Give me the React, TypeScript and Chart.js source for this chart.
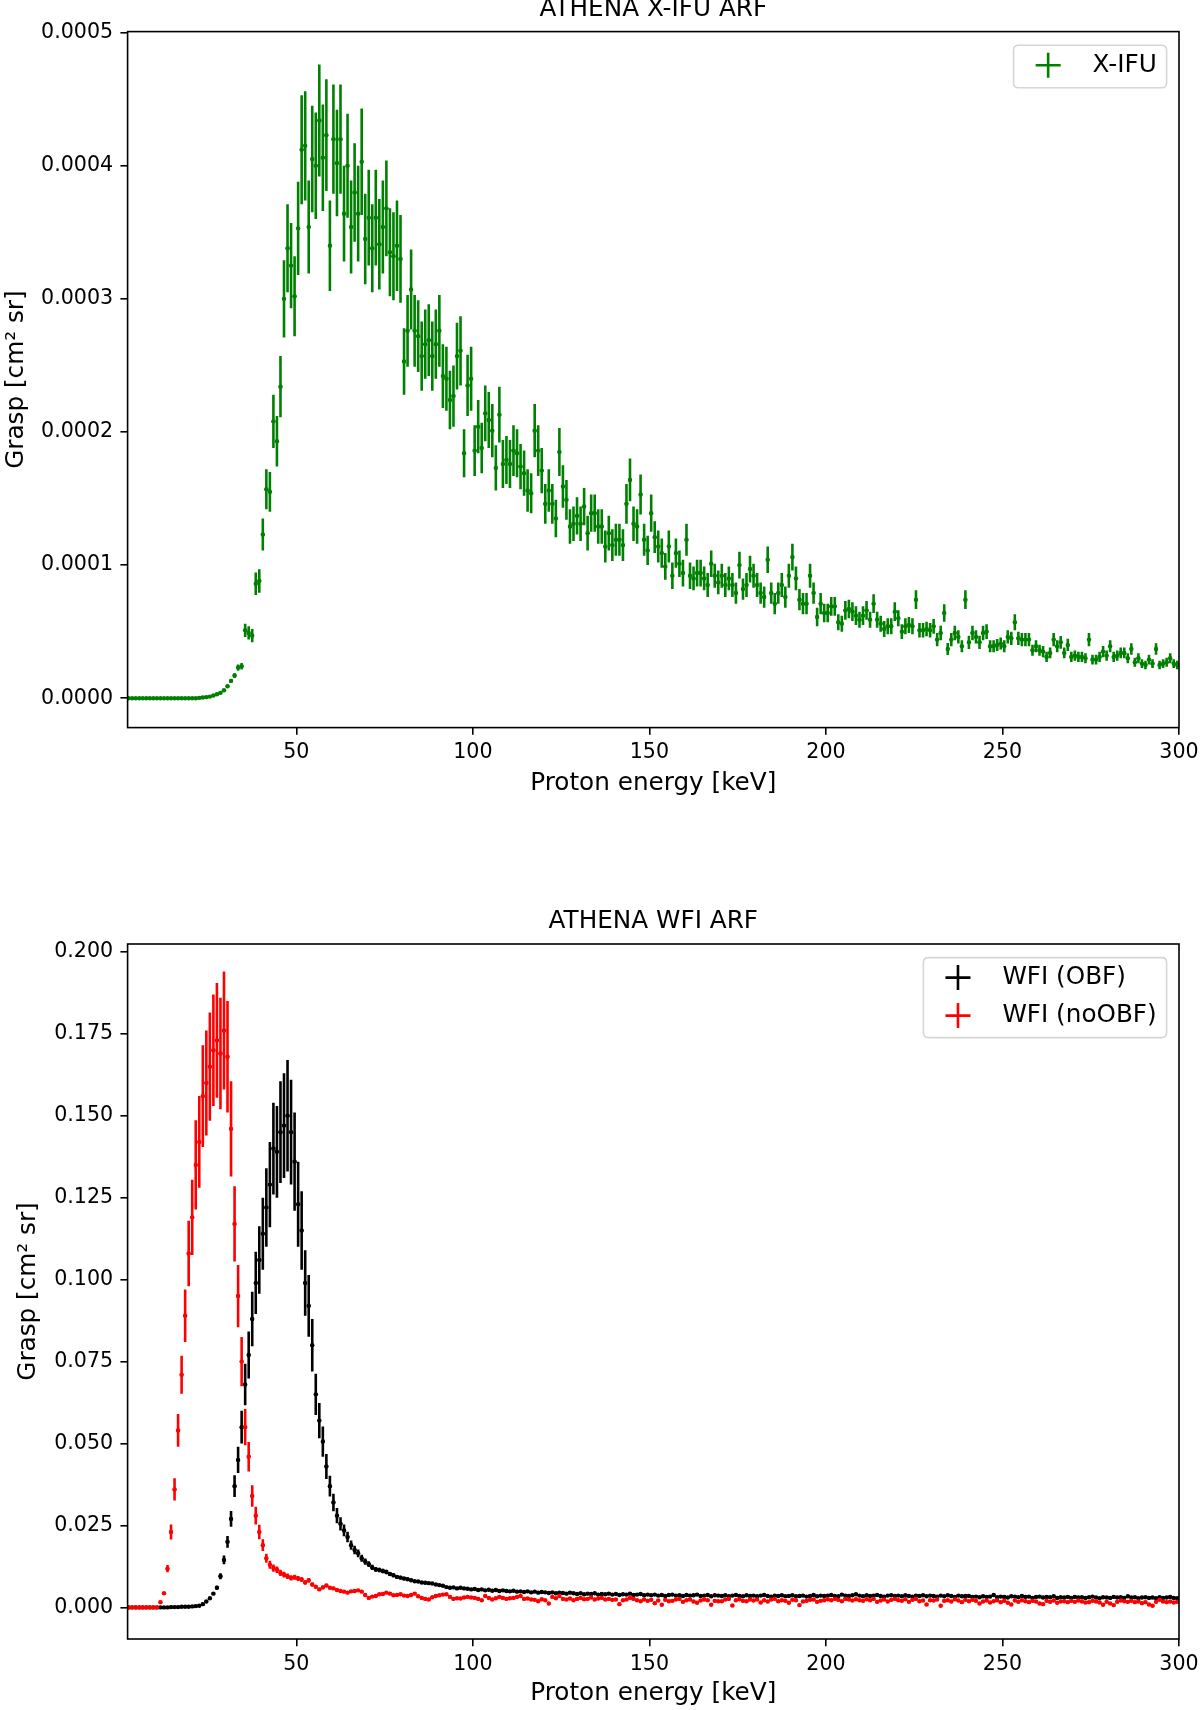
import React, { useEffect, useRef } from "react";
import { Chart, registerables } from "chart.js";

Chart.register(...registerables);

const FONT = "'DejaVu Sans', 'Liberation Sans', sans-serif";

// ---------------- DATA ----------------
// Proton energy bin centres [keV]
const ENERGY_KEV = [
  2.5, 3.5, 4.5, 5.5, 6.5, 7.5, 8.5, 9.5,
  10.5, 11.5, 12.5, 13.5, 14.5, 15.5, 16.5, 17.5, 18.5, 19.5,
  20.5, 21.5, 22.5, 23.5, 24.5, 25.5, 26.5, 27.5, 28.5, 29.5,
  30.5, 31.5, 32.5, 33.5, 34.5, 35.5, 36.5, 37.5, 38.5, 39.5,
  40.5, 41.5, 42.5, 43.5, 44.5, 45.5, 46.5, 47.5, 48.5, 49.5,
  50.5, 51.5, 52.5, 53.5, 54.5, 55.5, 56.5, 57.5, 58.5, 59.5,
  60.5, 61.5, 62.5, 63.5, 64.5, 65.5, 66.5, 67.5, 68.5, 69.5,
  70.5, 71.5, 72.5, 73.5, 74.5, 75.5, 76.5, 77.5, 78.5, 79.5,
  80.5, 81.5, 82.5, 83.5, 84.5, 85.5, 86.5, 87.5, 88.5, 89.5,
  90.5, 91.5, 92.5, 93.5, 94.5, 95.5, 96.5, 97.5, 98.5, 99.5,
  100.5, 101.5, 102.5, 103.5, 104.5, 105.5, 106.5, 107.5, 108.5, 109.5,
  110.5, 111.5, 112.5, 113.5, 114.5, 115.5, 116.5, 117.5, 118.5, 119.5,
  120.5, 121.5, 122.5, 123.5, 124.5, 125.5, 126.5, 127.5, 128.5, 129.5,
  130.5, 131.5, 132.5, 133.5, 134.5, 135.5, 136.5, 137.5, 138.5, 139.5,
  140.5, 141.5, 142.5, 143.5, 144.5, 145.5, 146.5, 147.5, 148.5, 149.5,
  150.5, 151.5, 152.5, 153.5, 154.5, 155.5, 156.5, 157.5, 158.5, 159.5,
  160.5, 161.5, 162.5, 163.5, 164.5, 165.5, 166.5, 167.5, 168.5, 169.5,
  170.5, 171.5, 172.5, 173.5, 174.5, 175.5, 176.5, 177.5, 178.5, 179.5,
  180.5, 181.5, 182.5, 183.5, 184.5, 185.5, 186.5, 187.5, 188.5, 189.5,
  190.5, 191.5, 192.5, 193.5, 194.5, 195.5, 196.5, 197.5, 198.5, 199.5,
  200.5, 201.5, 202.5, 203.5, 204.5, 205.5, 206.5, 207.5, 208.5, 209.5,
  210.5, 211.5, 212.5, 213.5, 214.5, 215.5, 216.5, 217.5, 218.5, 219.5,
  220.5, 221.5, 222.5, 223.5, 224.5, 225.5, 226.5, 227.5, 228.5, 229.5,
  230.5, 231.5, 232.5, 233.5, 234.5, 235.5, 236.5, 237.5, 238.5, 239.5,
  240.5, 241.5, 242.5, 243.5, 244.5, 245.5, 246.5, 247.5, 248.5, 249.5,
  250.5, 251.5, 252.5, 253.5, 254.5, 255.5, 256.5, 257.5, 258.5, 259.5,
  260.5, 261.5, 262.5, 263.5, 264.5, 265.5, 266.5, 267.5, 268.5, 269.5,
  270.5, 271.5, 272.5, 273.5, 274.5, 275.5, 276.5, 277.5, 278.5, 279.5,
  280.5, 281.5, 282.5, 283.5, 284.5, 285.5, 286.5, 287.5, 288.5, 289.5,
  290.5, 291.5, 292.5, 293.5, 294.5, 295.5, 296.5, 297.5, 298.5, 299.5,
];
const ENERGY_HALF_BIN_KEV = 0.5;

// X-IFU grasp, in units of 1e-6 cm^2 sr
const XIFU_GRASP_E6 = [
  0, 0, 0, 0, 0, 0, 0, 0,
  0, 0, 0, 0, 0, 0, 0, 0, 0, 0,
  0, 0, 0.2, 0.5, 0.8, 1.2, 2, 3, 4, 6,
  9, 13, 17, 23, 24, 51, 49, 47, 86, 88,
  123, 157, 155, 208, 193, 234, 300, 338, 325, 302,
  353, 412, 415, 354, 405, 400, 434, 406, 423, 340,
  420, 402, 420, 364, 400, 354, 380, 364, 403, 345,
  361, 338, 361, 341, 354, 368, 335, 332, 340, 330,
  253, 276, 307, 276, 272, 257, 266, 269, 257, 266,
  276, 242, 240, 224, 227, 257, 261, 184, 235, 240,
  186, 204, 188, 214, 209, 201, 173, 213, 176, 179,
  176, 186, 184, 174, 169, 156, 154, 201, 186, 171,
  146, 156, 146, 135, 185, 159, 149, 129, 131, 137,
  131, 144, 124, 139, 139, 129, 129, 114, 124, 115,
  119, 119, 115, 146, 164, 131, 129, 153, 119, 111,
  139, 121, 114, 109, 99, 114, 92, 109, 101, 94,
  119, 92, 90, 94, 94, 90, 85, 101, 92, 87,
  92, 85, 90, 85, 79, 100, 82, 85, 97, 92,
  85, 79, 76, 104, 79, 71, 79, 85, 76, 92,
  106, 90, 74, 71, 71, 92, 79, 61, 71, 64,
  64, 69, 69, 57, 56, 66, 67, 65, 62, 59,
  62, 66, 59, 71, 59, 56, 52, 54, 54, 65,
  60, 50, 54, 55, 54, 74, 51, 51, 52, 51,
  54, 44, 49, 64, 37, 44, 49, 46, 39, 74,
  42, 49, 46, 42, 49, 50, 39, 39, 40, 41,
  39, 46, 45, 57, 45, 44, 44, 44, 36, 39,
  36, 35, 31, 34, 44, 39, 42, 34, 40, 31,
  32, 31, 31, 30, 44, 29, 29, 31, 35, 32,
  39, 31, 32, 34, 34, 30, 37, 27, 30, 26,
  25, 29, 26, 37, 25, 26, 27, 30, 26, 25,
];
const XIFU_ERR_E6 = [
  0, 0, 0, 0, 0, 0, 0, 0,
  0, 0, 0, 0, 0, 0, 0, 0, 0, 0,
  0, 0, 0, 0.1, 0.1, 0.2, 0.3, 0.4, 0.5, 0.7,
  1, 1.4, 1.8, 2.4, 2.5, 5, 5, 5, 8.5, 8.8,
  12, 15, 15, 20, 19, 23, 29, 33, 32, 30,
  35, 41, 41, 35, 40, 40, 42, 40, 42, 34,
  41, 40, 41, 36, 39, 35, 37, 36, 40, 34,
  36, 33, 36, 34, 35, 36, 33, 33, 34, 33,
  25, 27, 30, 27, 27, 26, 26, 27, 26, 26,
  27, 24, 24, 22, 23, 25, 26, 18, 23, 24,
  19, 20, 19, 21, 21, 20, 17, 21, 18, 18,
  18, 19, 18, 17, 17, 16, 15, 20, 19, 17,
  15, 16, 15, 14, 18, 16, 15, 13, 13, 14,
  13, 14, 13, 14, 14, 13, 13, 12, 13, 12,
  12, 12, 12, 15, 16, 13, 13, 15, 12, 11,
  14, 12, 12, 11, 10, 12, 10, 11, 10, 10,
  12, 10, 9, 10, 10, 9, 9, 10, 9, 9,
  9, 9, 9, 9, 8, 10, 8, 9, 10, 9,
  9, 8, 8, 10, 8, 8, 8, 9, 8, 9,
  10, 9, 8, 8, 8, 9, 8, 7, 8, 7,
  7, 7, 7, 6, 6, 7, 7, 7, 7, 6,
  7, 7, 6, 7, 6, 6, 6, 6, 6, 7,
  6, 5.5, 6, 6, 6, 7, 5.5, 5.5, 5.5, 5.5,
  5.5, 5, 5.5, 6.5, 4.5, 5, 5.5, 5, 4.5, 7,
  5, 5.5, 5, 5, 5.5, 5.5, 4.5, 4.5, 4.5, 4.5,
  4.5, 5, 5, 6, 5, 5, 5, 5, 4.2, 4.5,
  4.2, 4.2, 3.8, 4, 5, 4.5, 4.8, 4, 4.6, 3.8,
  3.9, 3.8, 3.8, 3.7, 5, 3.6, 3.6, 3.8, 4.2, 3.9,
  4.5, 3.8, 3.9, 4, 4, 3.7, 4.3, 3.4, 3.7, 3.3,
  3.2, 3.6, 3.3, 4.3, 3.2, 3.3, 3.4, 3.7, 3.3, 3.2,
];

// WFI with optical blocking filter, in units of 1e-3 cm^2 sr
const WFI_OBF_E3 = [
  0, 0, 0, 0, 0, 0, 0, 0,
  0, 0, 0, 0, 0.1, 0.1, 0.1, 0.2, 0.2, 0.2,
  0.3, 0.4, 0.5, 1.0, 1.8, 2.8, 4.2, 6.0, 9.5, 14.5,
  20, 27, 37, 45, 55, 68, 77, 88, 99, 106,
  114, 122, 129, 140, 139, 145, 147, 150, 145, 136,
  123, 115, 99, 92, 80, 65, 57, 50.6, 43, 37,
  32, 28, 25.5, 23.5, 21.5, 19, 17.5, 16.5, 15, 14,
  13.2, 12.2, 11.6, 11.4, 11.1, 10.8, 10.2, 9.8, 9.3, 9.1,
  8.8, 8.6, 8.3, 8.0, 7.9, 7.6, 7.5, 7.4, 7.3, 7.0,
  6.8, 6.6, 6.2, 6.0, 6.1, 5.8, 6.0, 5.8, 5.7, 5.5,
  5.6, 5.3, 5.5, 5.2, 5.4, 5.1, 5.3, 5.0, 5.2, 5.0,
  4.9, 5.1, 4.8, 4.9, 4.7, 4.9, 4.6, 4.8, 4.5, 4.7,
  4.6, 4.4, 4.6, 4.3, 4.5, 4.4, 4.2, 4.5, 4.3, 4.1,
  4.3, 4.0, 4.2, 4.1, 4.3, 3.9, 4.1, 4.0, 4.2, 3.9,
  4.1, 3.8, 4.0, 3.9, 4.2, 3.8, 3.9, 4.1, 3.7, 3.9,
  3.7, 3.9, 3.6, 3.8, 3.5, 3.8, 3.9, 3.6, 3.7, 3.5,
  3.8, 3.6, 3.7, 3.9, 3.5, 3.6, 3.8, 3.4, 3.7, 3.6,
  3.5, 3.7, 3.4, 3.6, 3.8, 3.5, 3.4, 3.7, 3.5, 3.6,
  3.4, 3.6, 3.8, 3.5, 3.3, 3.6, 3.5, 3.7, 3.4, 3.5,
  3.7, 3.4, 3.5, 3.6, 3.3, 3.5, 3.8, 3.4, 3.6, 3.5,
  3.6, 3.8, 3.5, 3.4, 3.9, 3.6, 3.5, 3.7, 4.0, 3.6,
  3.4, 3.7, 3.5, 3.6, 3.8, 3.5, 3.3, 3.6, 3.7, 3.5,
  3.6, 3.4, 3.7, 3.5, 3.3, 3.6, 3.5, 3.7, 3.4, 3.6,
  3.5, 3.3, 3.6, 3.4, 3.7, 3.5, 3.2, 3.6, 3.4, 3.5,
  3.5, 3.2, 3.3, 3.1, 3.4, 3.2, 3.3, 3.8, 3.1, 3.3,
  3.2, 3.0, 3.4, 3.3, 3.1, 3.5, 3.2, 3.3, 2.9, 3.2,
  3.3, 3.0, 3.2, 3.1, 3.4, 2.9, 3.1, 3.0, 3.2, 2.9,
  3.2, 3.0, 3.1, 2.9, 3.1, 3.3, 3.0, 2.8, 3.1, 3.0,
  2.9, 3.2, 3.0, 3.1, 2.9, 3.4, 3.0, 3.1, 2.8, 3.0,
  3.1, 2.9, 3.0, 2.8, 3.1, 2.9, 3.0, 3.2, 2.9, 2.8,
];
const WFI_OBF_ERR_E3 = [
  0, 0, 0, 0, 0, 0, 0, 0,
  0, 0, 0, 0, 0, 0, 0, 0, 0, 0,
  0, 0, 0, 0.1, 0.2, 0.3, 0.4, 0.6, 0.9, 1.3,
  1.8, 2.4, 3.3, 4.0, 5.0, 6.3, 7.2, 8.3, 9.5, 10.3,
  11, 12, 13, 14, 14, 15.5, 16, 17, 16, 15,
  13, 12, 10, 9.4, 8, 6.3, 5.4, 4.6, 3.8, 3.2,
  2.7, 2.3, 2.0, 1.8, 1.6, 1.4, 1.3, 1.2, 1.05, 0.95,
  0.9, 0.8, 0.75, 0.7, 0.7, 0.65, 0.6, 0.6, 0.55, 0.55,
  0.5, 0.5, 0.5, 0.45, 0.45, 0.45, 0.45, 0.4, 0.4, 0.4,
  0.4, 0.4, 0.35, 0.35, 0.35, 0.35, 0.35, 0.3, 0.3, 0.3,
  0.3, 0.3, 0.3, 0.3, 0.3, 0.3, 0.3, 0.3, 0.3, 0.3,
  0.3, 0.3, 0.3, 0.3, 0.3, 0.3, 0.3, 0.3, 0.3, 0.3,
  0.3, 0.3, 0.3, 0.3, 0.3, 0.3, 0.3, 0.3, 0.3, 0.3,
  0.3, 0.3, 0.3, 0.3, 0.3, 0.3, 0.3, 0.3, 0.3, 0.3,
  0.3, 0.3, 0.3, 0.3, 0.3, 0.3, 0.3, 0.3, 0.3, 0.3,
  0.25, 0.25, 0.25, 0.25, 0.25, 0.25, 0.25, 0.25, 0.25, 0.25,
  0.25, 0.25, 0.25, 0.25, 0.25, 0.25, 0.25, 0.25, 0.25, 0.25,
  0.25, 0.25, 0.25, 0.25, 0.25, 0.25, 0.25, 0.25, 0.25, 0.25,
  0.25, 0.25, 0.25, 0.25, 0.25, 0.25, 0.25, 0.25, 0.25, 0.25,
  0.25, 0.25, 0.25, 0.25, 0.25, 0.25, 0.25, 0.25, 0.25, 0.25,
  0.25, 0.25, 0.25, 0.25, 0.25, 0.25, 0.25, 0.25, 0.25, 0.25,
  0.25, 0.25, 0.25, 0.25, 0.25, 0.25, 0.25, 0.25, 0.25, 0.25,
  0.25, 0.25, 0.25, 0.25, 0.25, 0.25, 0.25, 0.25, 0.25, 0.25,
  0.25, 0.25, 0.25, 0.25, 0.25, 0.25, 0.25, 0.25, 0.25, 0.25,
  0.25, 0.25, 0.25, 0.25, 0.25, 0.25, 0.25, 0.25, 0.25, 0.25,
  0.25, 0.25, 0.25, 0.25, 0.25, 0.25, 0.25, 0.25, 0.25, 0.25,
  0.25, 0.25, 0.25, 0.25, 0.25, 0.25, 0.25, 0.25, 0.25, 0.25,
  0.25, 0.25, 0.25, 0.25, 0.25, 0.25, 0.25, 0.25, 0.25, 0.25,
  0.25, 0.25, 0.25, 0.25, 0.25, 0.25, 0.25, 0.25, 0.25, 0.25,
  0.25, 0.25, 0.25, 0.25, 0.25, 0.25, 0.25, 0.25, 0.25, 0.25,
];

// WFI without optical blocking filter, in units of 1e-3 cm^2 sr
const WFI_NOOBF_E3 = [
  0, 0, 0, 0, 0, 0, 0, 0,
  0, 1.6, 4.3, 11.8, 23, 36, 54, 71, 89, 108,
  119, 135, 142, 156, 160, 165, 170, 173, 169, 176,
  168, 146, 117, 95, 75, 55, 46, 34, 28, 23,
  19, 15, 13, 12, 11.5, 10.5, 10, 9.5, 9, 9.2,
  8.8, 8.5, 7.6, 8.3, 7.0, 6.3, 5.5, 6.1, 6.7, 6.0,
  5.8, 5.3, 5.0, 4.8, 4.5, 4.9, 5.0, 5.2, 4.8, 3.8,
  2.9, 3.3, 3.5, 4.0, 4.1, 4.5, 4.2, 3.7, 3.8, 4.0,
  3.6, 3.5, 3.8, 4.2, 3.4, 2.9, 2.6, 2.4, 3.1, 3.5,
  3.7, 3.9, 4.0, 3.2, 2.6, 2.8, 2.7, 3.0, 3.2, 3.0,
  2.9, 2.6, 2.2, 3.5, 2.9, 2.4, 2.8, 3.2, 2.9, 2.6,
  2.8, 2.9, 3.2, 3.5, 2.6, 2.7, 2.4, 2.3, 1.9, 2.5,
  2.2, 1.2, 3.2, 2.8, 3.5, 2.6, 2.4, 2.7, 2.2, 2.6,
  2.9, 2.5, 2.6, 3.0, 2.4, 2.7, 2.9, 2.4, 2.6, 2.3,
  2.4, 1.0, 2.2, 2.4, 2.9, 2.6, 2.2, 1.9, 2.4, 2.0,
  2.3, 1.3, 2.1, 0.8, 2.3, 1.9, 2.0, 2.4, 2.6, 1.7,
  2.2, 2.4, 1.8, 1.4, 2.1, 2.4, 2.2, 0.8, 2.0, 1.9,
  1.9, 2.4, 2.6, 0.6, 2.2, 2.5, 2.0, 1.9, 2.4, 2.1,
  2.4, 1.5, 2.2, 1.8, 2.4, 2.6, 1.9, 2.2, 2.0, 1.4,
  2.3, 2.2, 0.7, 1.8, 2.0, 2.3, 2.4, 1.7, 2.0, 2.2,
  2.5, 2.2, 2.6, 2.3, 1.9, 2.6, 2.4, 2.1, 2.5, 2.2,
  2.0, 2.5, 2.2, 2.6, 1.7, 2.1, 2.4, 1.8, 2.3, 2.6,
  2.2, 2.0, 2.5, 1.7, 2.3, 2.6, 1.9, 2.1, 0.9, 2.2,
  2.1, 2.4, 0.5, 2.0, 2.2, 1.8, 2.5, 2.1, 1.6, 2.3,
  1.9, 2.3, 2.0, 1.2, 1.8, 2.1, 1.5, 1.9, 2.2, 1.6,
  2.0, 1.4, 0.9, 2.1, 1.7, 2.2, 1.9, 1.6, 2.0, 1.8,
  1.2, 1.0, 2.0, 1.7, 2.1, 1.4, 1.8, 1.9, 1.6, 2.0,
  1.7, 2.1, 1.8, 1.5, 1.6, 2.0, 1.8, 1.5, 0.8, 1.7,
  1.2, 0.7, 1.7, 2.1, 1.9, 1.7, 2.0, 1.6, 1.8, 1.3,
  1.6, 0.9, 0.5, 1.7, 2.3, 1.8, 1.6, 1.8, 1.5, 1.7,
];
const WFI_NOOBF_ERR_E3 = [
  0, 0, 0, 0, 0, 0, 0, 0,
  0, 0.1, 0.4, 1.1, 2.3, 3.4, 5.0, 5.8, 8.0, 10,
  11.5, 13.6, 14, 15.5, 16, 16.5, 17, 17.5, 17, 18,
  17, 14.5, 11.5, 9.5, 7.5, 5.5, 4.5, 3.3, 2.7, 2.2,
  1.8, 1.4, 1.2, 1.1, 1.0, 0.95, 0.9, 0.85, 0.8, 0.8,
  0.75, 0.7, 0.65, 0.7, 0.6, 0.55, 0.5, 0.55, 0.55, 0.5,
  0.5, 0.45, 0.45, 0.4, 0.4, 0.4, 0.4, 0.45, 0.4, 0.3,
  0.3, 0.35, 0.35, 0.4, 0.4, 0.4, 0.4, 0.35, 0.35, 0.4,
  0.3, 0.3, 0.3, 0.3, 0.3, 0.3, 0.3, 0.3, 0.3, 0.3,
  0.3, 0.3, 0.3, 0.3, 0.3, 0.3, 0.3, 0.3, 0.3, 0.3,
  0.3, 0.3, 0.3, 0.3, 0.3, 0.3, 0.3, 0.3, 0.3, 0.3,
  0.25, 0.25, 0.25, 0.25, 0.25, 0.25, 0.25, 0.25, 0.25, 0.25,
  0.25, 0.25, 0.25, 0.25, 0.25, 0.25, 0.25, 0.25, 0.25, 0.25,
  0.25, 0.25, 0.25, 0.25, 0.25, 0.25, 0.25, 0.25, 0.25, 0.25,
  0.25, 0.25, 0.25, 0.25, 0.25, 0.25, 0.25, 0.25, 0.25, 0.25,
  0.2, 0.2, 0.2, 0.2, 0.2, 0.2, 0.2, 0.2, 0.2, 0.2,
  0.2, 0.2, 0.2, 0.2, 0.2, 0.2, 0.2, 0.2, 0.2, 0.2,
  0.2, 0.2, 0.2, 0.2, 0.2, 0.2, 0.2, 0.2, 0.2, 0.2,
  0.2, 0.2, 0.2, 0.2, 0.2, 0.2, 0.2, 0.2, 0.2, 0.2,
  0.2, 0.2, 0.2, 0.2, 0.2, 0.2, 0.2, 0.2, 0.2, 0.2,
  0.2, 0.2, 0.2, 0.2, 0.2, 0.2, 0.2, 0.2, 0.2, 0.2,
  0.2, 0.2, 0.2, 0.2, 0.2, 0.2, 0.2, 0.2, 0.2, 0.2,
  0.2, 0.2, 0.2, 0.2, 0.2, 0.2, 0.2, 0.2, 0.2, 0.2,
  0.2, 0.2, 0.2, 0.2, 0.2, 0.2, 0.2, 0.2, 0.2, 0.2,
  0.2, 0.2, 0.2, 0.2, 0.2, 0.2, 0.2, 0.2, 0.2, 0.2,
  0.2, 0.2, 0.2, 0.2, 0.2, 0.2, 0.2, 0.2, 0.2, 0.2,
  0.2, 0.2, 0.2, 0.2, 0.2, 0.2, 0.2, 0.2, 0.2, 0.2,
  0.2, 0.2, 0.2, 0.2, 0.2, 0.2, 0.2, 0.2, 0.2, 0.2,
  0.2, 0.2, 0.2, 0.2, 0.2, 0.2, 0.2, 0.2, 0.2, 0.2,
  0.2, 0.2, 0.2, 0.2, 0.2, 0.2, 0.2, 0.2, 0.2, 0.2,
];

const X_TICKS = [50, 100, 150, 200, 250, 300];
const XIFU_Y_TICKS = [0, 0.0001, 0.0002, 0.0003, 0.0004, 0.0005];
const WFI_Y_TICKS = [0, 0.025, 0.05, 0.075, 0.1, 0.125, 0.15, 0.175, 0.2];

const TITLE_XIFU = "ATHENA X-IFU ARF";
const TITLE_WFI = "ATHENA WFI ARF";
const X_LABEL = "Proton energy [keV]";
const Y_LABEL = "Grasp [cm\u00B2 sr]";

const GREEN = "#008000";
const BLACK = "#000000";
const RED = "#ff0000";

// ---------------- PLUGINS ----------------
const errorBarPlugin = {
  id: "errorBars",
  beforeDatasetDraw(chart: any, args: any) {
    const ds: any = chart.data.datasets[args.index];
    if (!ds.yErr) return;
    const { ctx, chartArea: a } = chart;
    const xs = chart.scales.x;
    const ys = chart.scales.y;
    ctx.save();
    ctx.beginPath();
    ctx.rect(a.left, a.top, a.right - a.left, a.bottom - a.top);
    ctx.clip();
    ctx.strokeStyle = ds.backgroundColor;
    ctx.lineWidth = 2.6;
    ctx.lineCap = "butt";
    ctx.beginPath();
    ds.data.forEach((p: any, i: number) => {
      const e = ds.yErr[i];
      const px = xs.getPixelForValue(p.x);
      const py = ys.getPixelForValue(p.y);
      if (e > 0) {
        ctx.moveTo(px, ys.getPixelForValue(p.y - e));
        ctx.lineTo(px, ys.getPixelForValue(p.y + e));
      }
      ctx.moveTo(xs.getPixelForValue(p.x - ds.xErr), py);
      ctx.lineTo(xs.getPixelForValue(p.x + ds.xErr), py);
    });
    ctx.stroke();
    ctx.restore();
  },
};

function makeDecorPlugin(title: string, items: { label: string; color: string }[]) {
  return {
    id: "decor",
    afterDraw(chart: any) {
      const { ctx, chartArea: a } = chart;
      ctx.save();
      // frame (spines)
      ctx.strokeStyle = "#000";
      ctx.lineWidth = 1.6;
      ctx.strokeRect(a.left, a.top, a.right - a.left, a.bottom - a.top);
      // title
      ctx.fillStyle = "#000";
      ctx.font = `24.7px ${FONT}`;
      ctx.textAlign = "center";
      ctx.textBaseline = "middle";
      ctx.fillText(title, (a.left + a.right) / 2, a.top - 22);
      // legend
      ctx.font = `24.7px ${FONT}`;
      let maxW = 0;
      items.forEach((it) => {
        maxW = Math.max(maxW, ctx.measureText(it.label).width);
      });
      const w = 88.9 + maxW;
      const h = 42.5 + (items.length - 1) * 37.5;
      const right = a.right - 12.4;
      const left = right - w;
      const top = a.top + 13.6;
      const r = 5;
      ctx.beginPath();
      ctx.moveTo(left + r, top);
      ctx.lineTo(right - r, top);
      ctx.quadraticCurveTo(right, top, right, top + r);
      ctx.lineTo(right, top + h - r);
      ctx.quadraticCurveTo(right, top + h, right - r, top + h);
      ctx.lineTo(left + r, top + h);
      ctx.quadraticCurveTo(left, top + h, left, top + h - r);
      ctx.lineTo(left, top + r);
      ctx.quadraticCurveTo(left, top, left + r, top);
      ctx.closePath();
      ctx.fillStyle = "rgba(255,255,255,0.8)";
      ctx.fill();
      ctx.strokeStyle = "#d6d6d6";
      ctx.lineWidth = 1.6;
      ctx.stroke();
      items.forEach((it, k) => {
        const cy = top + 20 + k * 38;
        const cx = left + 34.6;
        ctx.strokeStyle = it.color;
        ctx.lineWidth = 2.6;
        ctx.beginPath();
        ctx.moveTo(cx - 12.5, cy);
        ctx.lineTo(cx + 12.5, cy);
        ctx.moveTo(cx, cy - 12.5);
        ctx.lineTo(cx, cy + 12.5);
        ctx.stroke();
        ctx.fillStyle = "#000";
        ctx.textAlign = "left";
        ctx.textBaseline = "middle";
        ctx.fillText(it.label, left + 79, cy);
      });
      ctx.restore();
    },
  };
}

function series(label: string, color: string, values: number[], errs: number[], unit: number, order: number) {
  return {
    label,
    order,
    data: ENERGY_KEV.map((e, i) => ({ x: e, y: values[i] * unit })),
    yErr: errs.map((v) => v * unit),
    xErr: ENERGY_HALF_BIN_KEV,
    backgroundColor: color,
    borderColor: color,
    pointRadius: 2.2,
    pointHoverRadius: 0,
    pointBorderWidth: 0,
    showLine: false,
  };
}

function buildConfig(opts: {
  datasets: any[];
  yMin: number;
  yMax: number;
  yTicks: number[];
  yDigits: number;
  padTop: number;
  xAxisH: number;
  xTitlePadBottom: number;
  yTitlePadTop: number;
  title: string;
  legend: { label: string; color: string }[];
}) {
  const tickFont = { family: FONT, size: 20.6 };
  const labelFont = { family: FONT, size: 24.7, lineHeight: 1.2 };
  return {
    type: "scatter",
    data: { datasets: opts.datasets },
    plugins: [errorBarPlugin, makeDecorPlugin(opts.title, opts.legend)],
    options: {
      responsive: false,
      animation: false,
      events: [],
      layout: { padding: { top: opts.padTop, right: 21, bottom: 0, left: 0 } },
      plugins: {
        legend: { display: false },
        tooltip: { enabled: false },
        title: { display: false },
      },
      scales: {
        x: {
          type: "linear",
          min: 2.2,
          max: 300,
          afterFit: (s: any) => {
            s.height = opts.xAxisH;
            s.paddingLeft = 0;
            s.paddingRight = 0;
          },
          afterBuildTicks: (s: any) => {
            s.ticks = X_TICKS.map((v) => ({ value: v }));
          },
          grid: { drawOnChartArea: false, drawTicks: true, tickLength: 7.2, color: "#000", lineWidth: 1.6 },
          border: { display: false },
          ticks: {
            font: tickFont,
            color: "#000",
            padding: 5.8,
            maxRotation: 0,
            autoSkip: false,
            callback: (v: any) => String(v),
          },
          title: {
            display: true,
            text: X_LABEL,
            font: labelFont,
            color: "#000",
            padding: { top: 0, bottom: opts.xTitlePadBottom },
          },
        },
        y: {
          type: "linear",
          min: opts.yMin,
          max: opts.yMax,
          afterFit: (s: any) => {
            s.width = 127.6;
            s.paddingTop = 0;
            s.paddingBottom = 0;
          },
          afterBuildTicks: (s: any) => {
            s.ticks = opts.yTicks.map((v) => ({ value: v }));
          },
          grid: { drawOnChartArea: false, drawTicks: true, tickLength: 7.2, color: "#000", lineWidth: 1.6 },
          border: { display: false },
          ticks: {
            font: tickFont,
            color: "#000",
            padding: 7.3,
            autoSkip: false,
            callback: (v: any) => Number(v).toFixed(opts.yDigits),
          },
          title: {
            display: true,
            text: Y_LABEL,
            font: labelFont,
            color: "#000",
            padding: { top: opts.yTitlePadTop, bottom: 0 },
          },
        },
      },
    },
  };
}

export default function App() {
  const topRef = useRef<HTMLCanvasElement | null>(null);
  const bottomRef = useRef<HTMLCanvasElement | null>(null);

  useEffect(() => {
    document.body.style.margin = "0";
    document.body.style.background = "#fff";
    const top = new Chart(
      topRef.current as HTMLCanvasElement,
      buildConfig({
        datasets: [series("X-IFU", GREEN, XIFU_GRASP_E6, XIFU_ERR_E6, 1e-6, 0)],
        yMin: -0.0000221,
        yMax: 0.0005008,
        yTicks: XIFU_Y_TICKS,
        yDigits: 4,
        padTop: 31.6,
        xAxisH: 72.4,
        xTitlePadBottom: 1.7,
        yTitlePadTop: 1.6,
        title: TITLE_XIFU,
        legend: [{ label: "X-IFU", color: GREEN }],
      }) as any
    );
    const bottom = new Chart(
      bottomRef.current as HTMLCanvasElement,
      buildConfig({
        datasets: [
          series("WFI (OBF)", BLACK, WFI_OBF_E3, WFI_OBF_ERR_E3, 1e-3, 1),
          series("WFI (noOBF)", RED, WFI_NOOBF_E3, WFI_NOOBF_ERR_E3, 1e-3, 0),
        ],
        yMin: -0.00964,
        yMax: 0.2024,
        yTicks: WFI_Y_TICKS,
        yDigits: 3,
        padTop: 144,
        xAxisH: 71,
        xTitlePadBottom: 1.2,
        yTitlePadTop: 13.6,
        title: TITLE_WFI,
        legend: [
          { label: "WFI (OBF)", color: BLACK },
          { label: "WFI (noOBF)", color: RED },
        ],
      }) as any
    );
    return () => {
      top.destroy();
      bottom.destroy();
    };
  }, []);

  return (
    <div style={{ width: 1200, height: 1710, background: "#fff", position: "relative" }}>
      <canvas ref={topRef} width={1200} height={800} style={{ display: "block", width: 1200, height: 800 }} />
      <canvas ref={bottomRef} width={1200} height={910} style={{ display: "block", width: 1200, height: 910 }} />
    </div>
  );
}
